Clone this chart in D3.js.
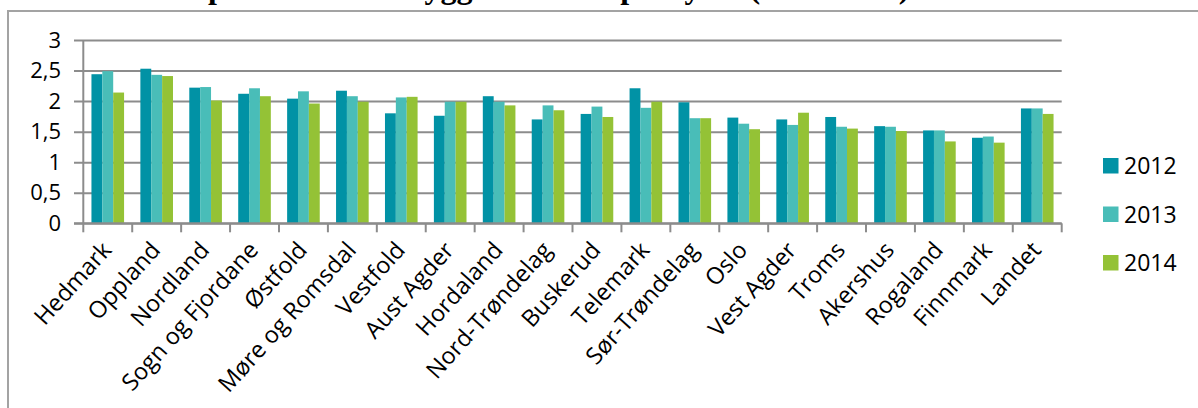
<!DOCTYPE html>
<html>
<head>
<meta charset="utf-8">
<script src="https://cdn.jsdelivr.net/npm/d3@7"></script>
<style>
  body { margin: 0; background: #fff; }
  svg { display: block; }
</style>
</head>
<body>
<div class="graph"></div>
<script>
// data
var categories = ["Hedmark", "Oppland", "Nordland", "Sogn og Fjordane", "Østfold", "Møre og Romsdal",
  "Vestfold", "Aust Agder", "Hordaland", "Nord-Trøndelag", "Buskerud", "Telemark", "Sør-Trøndelag",
  "Oslo", "Vest Agder", "Troms", "Akershus", "Rogaland", "Finnmark", "Landet"]
var years = ["2012", "2013", "2014"]
var values2012 = [2.44, 2.53, 2.22, 2.12, 2.04, 2.17, 1.80, 1.76, 2.08, 1.70, 1.79, 2.21, 1.98, 1.73, 1.70, 1.74, 1.59, 1.52, 1.40, 1.88]
var values2013 = [2.49, 2.43, 2.23, 2.21, 2.16, 2.08, 2.06, 1.99, 1.99, 1.93, 1.91, 1.89, 1.72, 1.63, 1.61, 1.58, 1.58, 1.52, 1.42, 1.88]
var values2014 = [2.14, 2.41, 2.01, 2.08, 1.96, 1.99, 2.07, 1.99, 1.93, 1.85, 1.74, 1.99, 1.72, 1.54, 1.81, 1.55, 1.51, 1.34, 1.32, 1.79]
var yTicks = [0, 0.5, 1, 1.5, 2, 2.5, 3]
var yTickLabels = ["0", "0,5", "1", "1,5", "2", "2,5", "3"]
var title = "Antall avvik per innkomne byggesøknader per fylke (2012-2014)"

var series = [values2012, values2013, values2014]
var colors = ["#0192a5", "#49bdb8", "#94c236"]

var w = 1198
var h = 408
var plotLeft = 83.3
var plotRight = 1061.7
var plotTop = 40
var plotBottom = 223.3

var svg = d3.select(".graph")
  .append("svg")
  .attr("width", w)
  .attr("height", h)

// title, cut by the top edge in the picture
svg.append("text")
  .attr("x", 32)
  .attr("y", -2)
  .attr("font-family", "Liberation Serif")
  .attr("font-weight", "bold")
  .attr("font-size", 32)
  .text(title)

// outer frame, runs off the right and bottom edge
svg.append("rect")
  .attr("x", 8)
  .attr("y", 11)
  .attr("width", 1300)
  .attr("height", 500)
  .attr("fill", "none")
  .attr("stroke", "#a3a3a3")
  .attr("stroke-width", 2)

var x = d3.scaleBand().domain(categories).range([plotLeft, plotRight]).padding(0)
var xs = d3.scaleBand().domain(years).range([x.bandwidth() / 6, x.bandwidth() * 5 / 6])
var y = d3.scaleLinear().domain([0, 3]).range([plotBottom, plotTop])

// gridlines + y labels
var yAxis = d3.axisLeft(y)
  .tickValues(yTicks)
  .tickFormat(function(d, i){ return yTickLabels[i] })
  .tickSize(-(plotRight - 74))
  .tickPadding(13)

var gy = svg.append("g")
  .attr("transform", "translate(74,0)")
  .call(yAxis)
gy.select(".domain").remove()
gy.selectAll("line").attr("stroke", "#8c8c8c").attr("stroke-width", 2)
gy.selectAll("text")
  .attr("font-family", "Open Sans")
  .attr("font-size", 22)
  .attr("fill", "#000")

// vertical axis line
svg.append("line")
  .attr("x1", plotLeft).attr("x2", plotLeft)
  .attr("y1", plotTop).attr("y2", plotBottom)
  .attr("stroke", "#8c8c8c")
  .attr("stroke-width", 2)

// category tick marks under the axis
var bounds = categories.map(function(c){ return x(c) }).concat([plotRight])
svg.selectAll(".xtick")
  .data(bounds)
  .enter()
  .append("line")
  .attr("x1", function(d){ return d })
  .attr("x2", function(d){ return d })
  .attr("y1", plotBottom)
  .attr("y2", plotBottom + 9)
  .attr("stroke", "#8c8c8c")
  .attr("stroke-width", 2)

// bars
for (var s = 0; s < series.length; s++) {
  svg.append("g")
    .selectAll("rect")
    .data(series[s])
    .enter()
    .append("rect")
    .attr("x", function(d, i){ return x(categories[i]) + xs(years[s]) })
    .attr("y", function(d){ return y(d) })
    .attr("width", xs.bandwidth())
    .attr("height", function(d){ return plotBottom - y(d) })
    .attr("fill", colors[s])
}

// redraw baseline over bars
svg.append("line")
  .attr("x1", 74).attr("x2", plotRight)
  .attr("y1", plotBottom).attr("y2", plotBottom)
  .attr("stroke", "#8c8c8c")
  .attr("stroke-width", 2)

// rotated category labels
svg.selectAll(".xlabel")
  .data(categories)
  .enter()
  .append("text")
  .attr("transform", function(d){
    return "translate(" + (x(d) + x.bandwidth() / 2 + 5) + "," + 251 + ") rotate(-48)"
  })
  .attr("text-anchor", "end")
  .attr("font-family", "Open Sans")
  .attr("font-size", 23.5)
  .attr("fill", "#000")
  .text(function(d){ return d })

// legend
var legend = svg.selectAll(".legend")
  .data(years)
  .enter()
  .append("g")
  .attr("transform", function(d, i){ return "translate(1103," + (166 + i * 48.5) + ")" })
legend.append("rect")
  .attr("x", 0)
  .attr("y", -8)
  .attr("width", 15.5)
  .attr("height", 15.5)
  .attr("fill", function(d, i){ return colors[i] })
legend.append("text")
  .attr("x", 21)
  .attr("y", 0)
  .attr("dy", "0.36em")
  .attr("font-family", "Open Sans")
  .attr("font-size", 23)
  .attr("fill", "#000")
  .text(function(d){ return d })
</script>
</body>
</html>
